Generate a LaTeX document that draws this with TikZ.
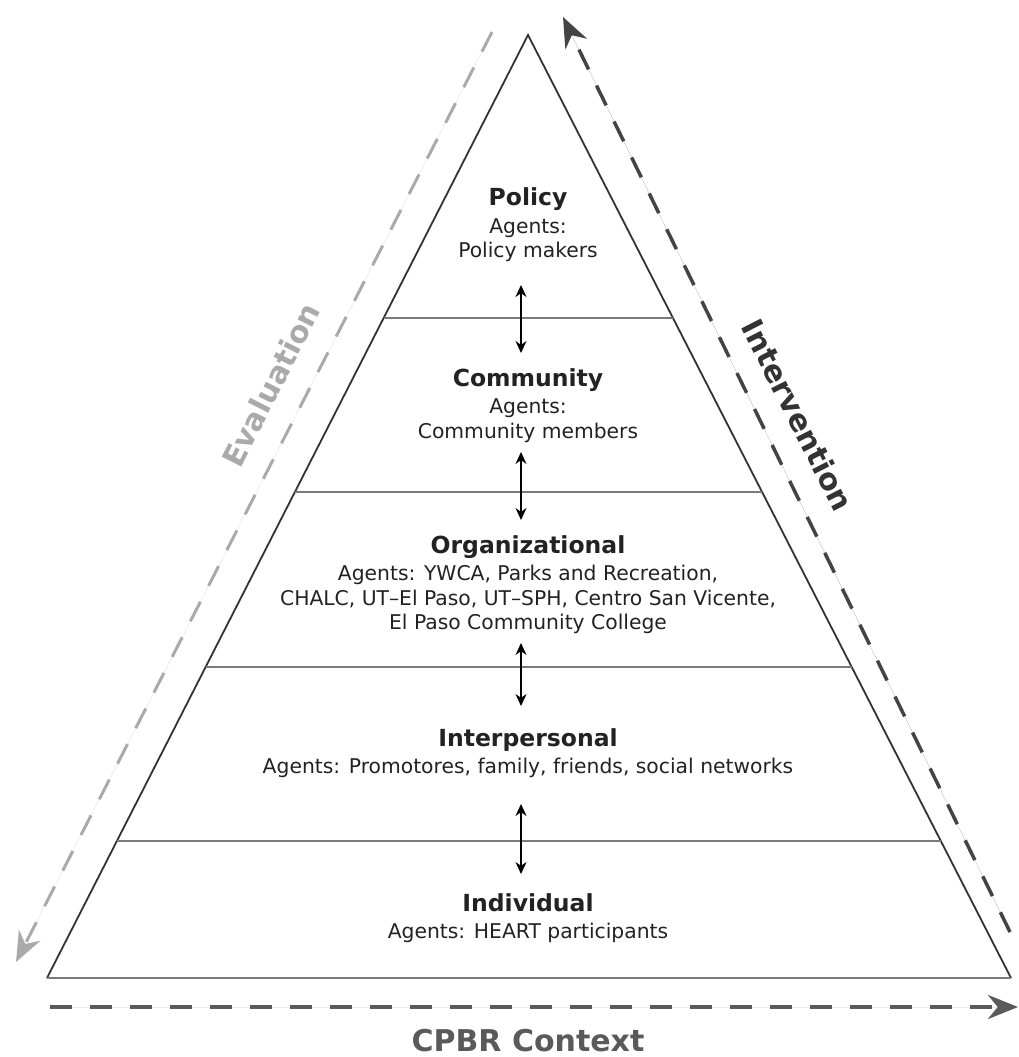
\documentclass[tikz,border=0pt]{standalone}
\usepackage{fontspec}
\setmainfont{DejaVu Sans}
\usetikzlibrary{arrows.meta}
\definecolor{sidecol}{HTML}{333333}
\definecolor{levelcol}{HTML}{7A7A7A}
\definecolor{evalcol}{HTML}{AAAAAA}
\definecolor{intcol}{HTML}{444444}
\definecolor{ctxcol}{HTML}{5A5A5A}
\definecolor{txtcol}{HTML}{222222}
\tikzset{
  side/.style={draw=sidecol, line width=1.8pt},
  levelline/.style={draw=levelcol, line width=2pt},
  levelarrow/.style={draw=black, line width=1.2pt, {Stealth[length=12pt,width=11pt]}-{Stealth[length=12pt,width=11pt]}},
  leveltext/.style={align=center, text=txtcol, font=\fontsize{20.3}{24.5}\selectfont},
  bigarrow/.style={line width=#1, dash pattern=on 22pt off 18pt, -{Stealth[length=30pt,width=24pt]}},
  sidelabel/.style={font=\bfseries\fontsize{30}{34}\selectfont}
}
\newcommand{\lvlhead}[1]{{\bfseries\fontsize{23.5}{27}\selectfont #1}}
\begin{document}
\begin{tikzpicture}[x=1pt,y=-1pt]
\useasboundingbox (0,0) rectangle (1019,1057);
% triangle
\coordinate (apex) at (528,35);
\coordinate (bl) at (47,978);
\coordinate (br) at (1011,978);
\draw[side, line join=miter] (bl) -- (apex) -- (br);
\draw[levelline] (bl) -- (br);
% level separators
\foreach \yy/\nm in {318/a,492/b,667/c,841/d}{
  \coordinate (L\nm) at ({528-(\yy-35)/943*481},\yy);
  \coordinate (R\nm) at ({528+(\yy-35)/943*483},\yy);
  \draw[levelline] (L\nm) -- (R\nm);
}
% level texts
\node[leveltext] (policy) at (528,225) {\lvlhead{Policy}\\[3pt]Agents:\\Policy makers};
\node[leveltext] (community) at (528,405.5) {\lvlhead{Community}\\[3pt]Agents:\\Community members};
\node[leveltext] (organizational) at (528,584.5) {\lvlhead{Organizational}\\[3pt]Agents: YWCA, Parks and Recreation,\\CHALC, UT–El Paso, UT–SPH, Centro San Vicente,\\El Paso Community College};
\node[leveltext] (interpersonal) at (528,753) {\lvlhead{Interpersonal}\\[3pt]Agents: Promotores, family, friends, social networks};
\node[leveltext] (individual) at (528,918) {\lvlhead{Individual}\\[3pt]Agents: HEART participants};
% double arrows between levels
\coordinate (a1) at (521,285); \coordinate (a2) at (521,353);
\coordinate (b1) at (521,452); \coordinate (b2) at (521,520);
\coordinate (c1) at (521,643); \coordinate (c2) at (521,706);
\coordinate (d1) at (521,804); \coordinate (d2) at (521,874);
\draw[levelarrow] (a1) -- (a2);
\draw[levelarrow] (b1) -- (b2);
\draw[levelarrow] (c1) -- (c2);
\draw[levelarrow] (d1) -- (d2);
% evaluation
\coordinate (evs) at (492,32);
\coordinate (eve) at (16,962);
\draw[bigarrow=3pt, draw=evalcol, fill=evalcol] (evs) -- (eve);
\node[sidelabel, text=evalcol, rotate=63] (evaluation) at (271,385) {Evaluation};
% intervention
\coordinate (ins) at (1010,932);
\coordinate (ine) at (563,17);
\draw[bigarrow=3.5pt, draw=intcol, fill=intcol] (ins) -- (ine);
\node[sidelabel, text=sidecol, rotate=-63] (intervention) at (798,415) {Intervention};
% context
\coordinate (cxs) at (50,1007);
\coordinate (cxe) at (1018,1007);
\draw[bigarrow=4.5pt, draw=ctxcol, fill=ctxcol] (cxs) -- (cxe);
\node[sidelabel, text=ctxcol, anchor=base, inner sep=0pt] (context) at (528,1051) {CPBR Context};
\end{tikzpicture}
\end{document}
